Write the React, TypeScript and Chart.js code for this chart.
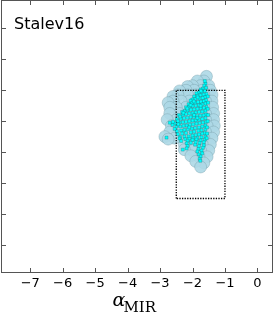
import React, { useEffect, useRef } from "react";
import { Chart, registerables } from "chart.js";

Chart.register(...registerables);

const xTickValues = [-7, -6, -5, -4, -3, -2, -1, 0];
const yTickValues = [0, 1, 2, 3, 4, 5, 6, 7];
const xRange = [-7.9, 0.48];
const yRange = [-0.91, 7.92];

const panelLabel = "Stalev16";

const boxX = [-2.5, -2.5, -1.0, -1.0, -2.5];
const boxY = [1.5, 5.0, 5.0, 1.5, 1.5];

// large light-blue markers
const envelopePoints: [number, number][] = [
  [-1.57, 5.45],
  [-1.65, 5.3], [-1.85, 5.3],
  [-1.5, 5.15], [-1.75, 5.15], [-2.0, 5.15], [-2.15, 5.12],
  [-1.45, 5.0], [-1.7, 5.0], [-1.95, 5.0], [-2.2, 5.0], [-2.4, 4.98],
  [-1.4, 4.85], [-1.65, 4.85], [-1.9, 4.85], [-2.15, 4.85], [-2.45, 4.85], [-2.6, 4.8],
  [-1.4, 4.65], [-1.6, 4.65], [-1.85, 4.65], [-2.1, 4.65], [-2.35, 4.65], [-2.6, 4.65], [-2.75, 4.6],
  [-1.38, 4.45], [-1.65, 4.45], [-1.9, 4.45], [-2.2, 4.45], [-2.5, 4.45], [-2.7, 4.45],
  [-1.35, 4.25], [-1.6, 4.25], [-1.85, 4.25], [-2.1, 4.25], [-2.4, 4.25], [-2.7, 4.25],
  [-1.35, 4.05], [-1.6, 4.05], [-1.9, 4.05], [-2.2, 4.05], [-2.5, 4.05], [-2.78, 4.05],
  [-1.33, 3.85], [-1.55, 3.85], [-1.8, 3.85], [-2.05, 3.85], [-2.35, 3.85], [-2.65, 3.85],
  [-1.35, 3.65], [-1.6, 3.65], [-1.85, 3.65], [-2.1, 3.65], [-2.4, 3.65], [-2.7, 3.65], [-2.85, 3.5],
  [-1.4, 3.45], [-1.65, 3.45], [-1.9, 3.45], [-2.2, 3.45], [-2.55, 3.45], [-2.75, 3.42],
  [-1.45, 3.25], [-1.7, 3.25], [-1.95, 3.25], [-2.25, 3.25],
  [-1.5, 3.05], [-1.75, 3.05], [-2.0, 3.05], [-2.25, 3.08],
  [-1.55, 2.85], [-1.8, 2.85], [-2.05, 2.88],
  [-1.65, 2.65], [-1.9, 2.7],
  [-1.75, 2.52],
];

// small cyan markers
const corePoints: [number, number][] = [
  [-1.60, 5.22], [-1.64, 5.15], [-1.58, 5.08], [-1.69, 5.05], [-1.75, 5.02], [-1.62, 4.98],
  [-1.71, 4.95], [-1.80, 4.93], [-1.88, 4.9], [-1.57, 4.88], [-1.66, 4.86], [-1.76, 4.84],
  [-1.85, 4.82], [-1.95, 4.8], [-1.61, 4.78], [-1.69, 4.75], [-1.79, 4.73], [-1.91, 4.72],
  [-2.01, 4.7], [-2.06, 4.66], [-1.58, 4.68], [-1.66, 4.65], [-1.74, 4.63], [-1.83, 4.62],
  [-1.92, 4.6], [-2.02, 4.58], [-2.12, 4.55], [-1.60, 4.57], [-1.70, 4.54], [-1.80, 4.52],
  [-1.90, 4.5], [-2.0, 4.49], [-2.1, 4.47], [-2.2, 4.45], [-1.57, 4.46], [-1.65, 4.43],
  [-1.75, 4.42], [-1.85, 4.4], [-1.95, 4.38], [-2.05, 4.37], [-2.15, 4.35], [-2.25, 4.33],
  [-2.32, 4.3], [-1.60, 4.34], [-1.70, 4.31], [-1.80, 4.3], [-1.90, 4.28], [-2.0, 4.26],
  [-2.1, 4.25], [-2.2, 4.23], [-2.3, 4.21], [-2.42, 4.2], [-1.58, 4.22], [-1.66, 4.19],
  [-1.76, 4.18], [-1.86, 4.16], [-1.96, 4.14], [-2.06, 4.13], [-2.16, 4.11], [-2.26, 4.1],
  [-2.36, 4.08], [-2.48, 4.06], [-1.60, 4.1], [-1.70, 4.07], [-1.80, 4.05], [-1.90, 4.03],
  [-2.0, 4.02], [-2.1, 4.0], [-2.2, 3.98], [-2.3, 3.97], [-2.4, 3.95], [-2.55, 3.93],
  [-1.58, 3.98], [-1.68, 3.96], [-1.78, 3.94], [-1.88, 3.92], [-1.98, 3.9], [-2.08, 3.88],
  [-2.18, 3.86], [-2.28, 3.85], [-2.38, 3.83], [-2.5, 3.82], [-2.62, 3.88], [-2.7, 3.95],
  [-1.60, 3.86], [-1.70, 3.83], [-1.80, 3.8], [-1.92, 3.78], [-2.02, 3.76], [-2.14, 3.74],
  [-2.25, 3.72], [-2.35, 3.7], [-2.48, 3.68], [-1.60, 3.74], [-1.72, 3.71], [-1.82, 3.69],
  [-1.95, 3.66], [-2.05, 3.64], [-2.2, 3.62], [-2.32, 3.6], [-2.45, 3.58], [-1.62, 3.62],
  [-1.70, 3.6], [-1.80, 3.57], [-1.90, 3.55], [-2.0, 3.53], [-2.12, 3.51], [-2.25, 3.5],
  [-2.38, 3.48], [-1.60, 3.5], [-1.72, 3.48], [-1.85, 3.46], [-1.98, 3.44], [-2.1, 3.43],
  [-2.22, 3.42], [-2.4, 3.44], [-1.62, 3.4], [-1.75, 3.38], [-1.88, 3.41], [-2.0, 3.39],
  [-2.15, 3.37], [-2.35, 3.36], [-1.65, 3.32], [-1.78, 3.3], [-1.9, 3.32], [-2.05, 3.3],
  [-2.18, 3.28], [-2.8, 3.47], [-1.65, 3.22], [-1.8, 3.2], [-1.92, 3.24], [-2.15, 3.2],
  [-1.68, 3.14], [-1.82, 3.1], [-2.18, 3.12], [-2.3, 3.08], [-1.72, 3.05], [-1.85, 3.02],
  [-1.7, 2.96], [-1.8, 2.92], [-1.75, 2.86], [-1.78, 2.78], [-1.76, 2.72],
  [-1.53, 4.8], [-1.52, 4.6], [-1.53, 4.4], [-1.52, 4.2], [-1.53, 4.0], [-1.55, 3.8],
  [-1.55, 3.6], [-1.56, 3.45], [-1.62, 5.3], [-1.74, 4.98], [-1.84, 4.77], [-1.96, 4.64],
  [-2.06, 4.52], [-2.16, 4.41], [-2.28, 4.27], [-2.38, 4.15], [-2.45, 4.0], [-2.6, 3.98],
  [-2.55, 3.75], [-2.44, 3.9], [-2.1, 3.8], [-1.85, 4.1], [-1.75, 4.5], [-1.95, 4.2],
];

const framePlugin = {
  id: "frame",
  afterDraw(chart: any) {
    const { ctx, chartArea: a, scales } = chart;
    const xs = scales.x;
    const ys = scales.y;
    ctx.save();
    ctx.strokeStyle = "#555";
    ctx.lineWidth = 1;
    ctx.strokeRect(Math.round(a.left) + 0.5, Math.round(a.top) + 0.5, Math.round(a.right - a.left) - 1, Math.round(a.bottom - a.top) - 1);
    ctx.beginPath();
    for (const v of xTickValues) {
      const px = Math.round(xs.getPixelForValue(v)) + 0.5;
      ctx.moveTo(px, a.bottom);
      ctx.lineTo(px, a.bottom - 5);
      ctx.moveTo(px, a.top);
      ctx.lineTo(px, a.top + 5);
    }
    for (const v of yTickValues) {
      const py = Math.round(ys.getPixelForValue(v)) + 0.5;
      ctx.moveTo(a.left, py);
      ctx.lineTo(a.left + 5, py);
      ctx.moveTo(a.right, py);
      ctx.lineTo(a.right - 5, py);
    }
    ctx.stroke();

    ctx.fillStyle = "#000";
    ctx.font = "16px 'DejaVu Sans'";
    ctx.textBaseline = "alphabetic";
    ctx.textAlign = "left";
    ctx.fillText(panelLabel, 14, 28.5);

    // x-axis label: alpha_MIR
    ctx.font = "italic 19px 'DejaVu Serif'";
    ctx.fillText("α", 112.5, 305.5);
    ctx.font = "15px 'DejaVu Serif'";
    ctx.fillText("MIR", 123.5, 311.5);
    ctx.restore();
  },
};

export default function App() {
  const ref = useRef<HTMLCanvasElement | null>(null);
  useEffect(() => {
    if (!ref.current) return;
    const chart = new Chart(ref.current, {
      type: "scatter",
      data: {
        datasets: [
          {
            label: "core",
            data: corePoints.map(([x, y]) => ({ x, y })),
            backgroundColor: "#00ffff",
            borderColor: "rgba(0,80,80,0.5)",
            borderWidth: 0.5,
            pointStyle: "rect",
            pointRadius: 2.1,
            order: 0,
          },
          {
            type: "line",
            label: "box",
            data: boxX.map((x, i) => ({ x, y: boxY[i] })),
            borderColor: "#000",
            borderWidth: 1.3,
            borderDash: [1.3, 1.3],
            pointRadius: 0,
            fill: false,
            tension: 0,
            order: 1,
          } as any,
          {
            label: "envelope",
            data: envelopePoints.map(([x, y]) => ({ x, y })),
            backgroundColor: "rgba(173,216,230,0.9)",
            borderColor: "rgba(110,150,160,0.5)",
            borderWidth: 0.7,
            pointRadius: 6,
            order: 2,
          },
        ],
      },
      options: {
        animation: false,
        responsive: false,
        devicePixelRatio: 1,
        layout: { autoPadding: false, padding: { left: 1, right: 1, top: 0, bottom: 0 } },
        plugins: { legend: { display: false }, tooltip: { enabled: false } },
        scales: {
          x: {
            type: "linear",
            min: xRange[0],
            max: xRange[1],
            afterBuildTicks: (s: any) => {
              s.ticks = xTickValues.map((v) => ({ value: v }));
            },
            afterFit: (s: any) => {
              s.height = 40;
            },
            grid: { display: false, drawTicks: false },
            border: { display: false },
            ticks: {
              color: "#000",
              font: { family: "'DejaVu Sans'", size: 13 },
              padding: 3,
              maxRotation: 0,
              autoSkip: false,
              callback: (v: any) => (Number(v) < 0 ? "\u2212" + Math.abs(Number(v)) : String(v)),
            },
          },
          y: {
            type: "linear",
            display: false,
            min: yRange[0],
            max: yRange[1],
          },
        },
      },
      plugins: [framePlugin],
    });
    return () => chart.destroy();
  }, []);
  return (
    <div style={{ position: "fixed", left: 0, top: 0, width: 274, height: 313, background: "#fff" }}>
      <canvas ref={ref} width={274} height={313} style={{ width: 274, height: 313, display: "block" }} />
    </div>
  );
}
